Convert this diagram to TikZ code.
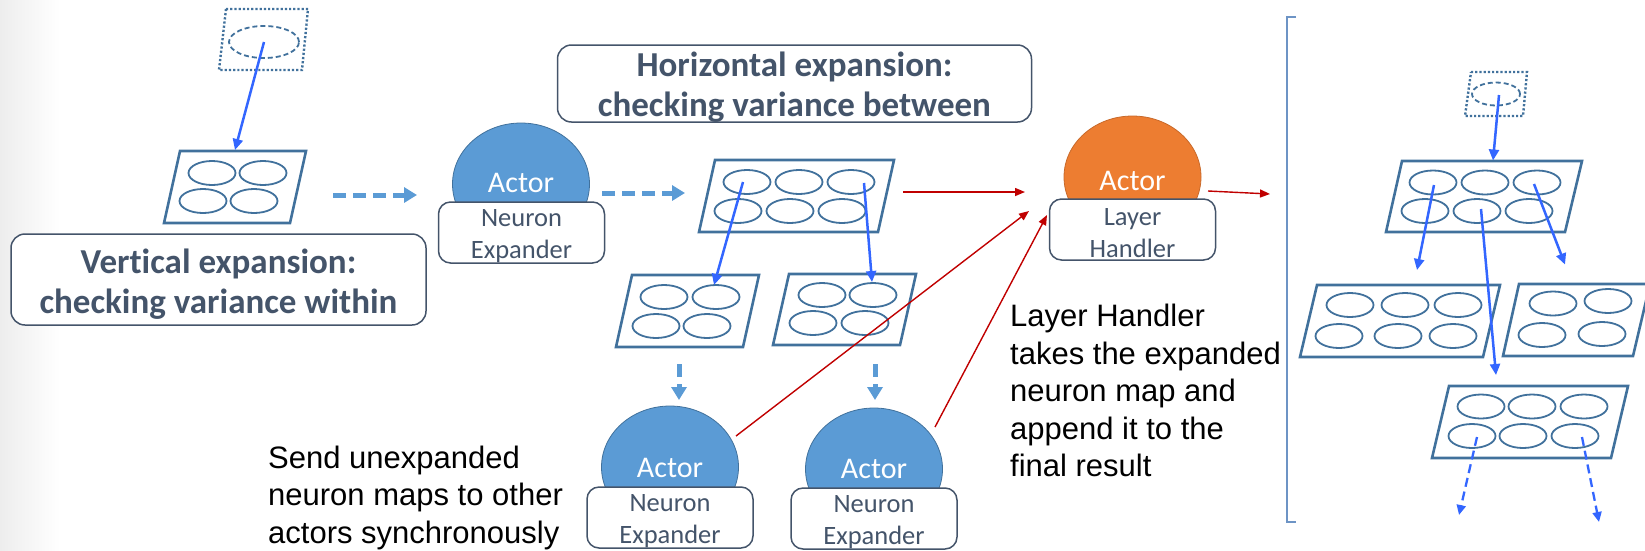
\documentclass[tikz,border=0pt]{standalone}
\usepackage{fontspec}
\setmainfont{Carlito}[Ligatures=CommonOff]
\newfontfamily\arialf{Liberation Sans}
\usetikzlibrary{shapes.geometric,arrows.meta}
\definecolor{pbord}{HTML}{41719C}
\definecolor{abl}{HTML}{5B9BD5}
\definecolor{aor}{HTML}{ED7D31}
\definecolor{aorb}{HTML}{C8692A}
\definecolor{slate}{HTML}{44546A}
\definecolor{brblue}{HTML}{3366FF}
\definecolor{dred}{HTML}{C00000}
\definecolor{brk}{HTML}{6D94C5}
\begin{document}
\begin{tikzpicture}[x=1pt,y=-1pt,
  pg/.style={draw=pbord, line width=2.6pt, line join=miter},
  dpg/.style={draw=pbord, line width=2.4pt, dash pattern=on 2.2pt off 2pt},
  cell/.style={ellipse, draw=pbord, line width=1.8pt, inner sep=0pt, outer sep=0pt, minimum width=47pt, minimum height=24pt},
  dcell/.style={ellipse, draw=pbord, line width=1.8pt, dash pattern=on 5pt off 3pt, inner sep=0pt, outer sep=0pt},
  barrow/.style={draw=brblue, line width=2.5pt, -{Triangle[length=11pt,width=10pt]}},
  darrow/.style={draw=abl, line width=5pt, dash pattern=on 13pt off 7pt, -{Triangle[length=13pt,width=15pt]}},
  rarrow/.style={draw=dred, line width=1.4pt, -{Triangle[length=10pt,width=8pt]}},
  rdash/.style={draw=brblue, line width=2.3pt, dash pattern=on 9pt off 5pt, -{Triangle[length=10pt,width=9pt]}},
  actor/.style={ellipse, fill=abl, draw=pbord, line width=0.8pt, minimum width=137pt, minimum height=122pt, inner sep=0pt},
  oactor/.style={actor, fill=aor, draw=aorb},
  atext/.style={text=white, font=\fontsize{30}{36}\selectfont, inner sep=0pt, anchor=base},
  rolebox/.style={draw=slate, line width=1.5pt, fill=white, rounded corners=12pt, minimum width=166pt, minimum height=61pt, inner sep=0pt},
  roletext/.style={text=slate, align=center, font=\fontsize{26.5}{32}\selectfont, inner sep=0pt},
  titlebox/.style={draw=slate, line width=1.5pt, fill=white, rounded corners=14pt, inner sep=0pt},
  titletext/.style={text=slate, align=center, font=\bfseries\fontsize{35}{40}\selectfont, inner sep=0pt},
  note/.style={text=black, align=left, font=\arialf\fontsize{31}{37.5}\selectfont, inner sep=0pt}
]
\useasboundingbox (0,0) rectangle (1645,550);
\shade[left color=black!7, right color=white] (0,0) rectangle (60,550);

% ---------- left: vertical expansion ----------
\draw[dpg] (226,9) -- (308,9) -- (302,70) -- (219,70) -- cycle;
\node[dcell, minimum width=70pt, minimum height=32pt] (e0) at (264,42) {};
\draw[pg] (180,151) -- (306,151) -- (290,223) -- (164,223) -- cycle;
\node[cell] (p1a) at (212,173) {};
\node[cell] (p1b) at (263,173) {};
\node[cell] (p1c) at (203,201) {};
\node[cell] (p1d) at (254,201) {};
\coordinate (t0) at (235,150);
\draw[barrow] (e0.center) -- (t0);

\node[titlebox, minimum width=415pt, minimum height=91pt] (vbox) at (218.5,279.5) {};
\node[titletext] (vtext) at ([yshift=-5pt]vbox.center) {Vertical expansion:\\checking variance within};

\coordinate (d1s) at (333,195);
\coordinate (d1e) at (417,195);
\draw[darrow] (d1s) -- (d1e);

% ---------- actor 1 ----------
\node[actor] (a1) at (521,184) {};
\node[atext] (a1t) at (521,192) {Actor};
\node[rolebox] (a1b) at (521.5,232.5) {};
\node[roletext] (a1bt) at ([yshift=-4pt]a1b.center) {Neuron\\Expander};

\coordinate (d2s) at (602,193);
\coordinate (d2e) at (685,193);
\draw[darrow] (d2s) -- (d2e);

% ---------- horizontal title ----------
\node[titlebox, minimum width=474pt, minimum height=77pt] (hbox) at (794.5,83.5) {};
\node[titletext] (htext) at ([yshift=-4pt]hbox.center) {Horizontal expansion:\\checking variance between};

% ---------- middle 6-map ----------
\draw[pg] (715,160) -- (894,160) -- (878,232) -- (699,232) -- cycle;
\node[cell] (p2a) at (747,182) {};
\node[cell] (p2b) at (799,182) {};
\node[cell] (p2c) at (851,182) {};
\node[cell] (p2d) at (738,211) {};
\node[cell] (p2e) at (790,211) {};
\node[cell] (p2f) at (842,211) {};

% ---------- lower maps ----------
\draw[pg] (632,275) -- (759,275) -- (743,347) -- (616,347) -- cycle;
\node[cell] (p3a) at (664,297) {};
\node[cell] (p3b) at (716,297) {};
\node[cell] (p3c) at (656,326) {};
\node[cell] (p3d) at (707,326) {};
\draw[pg] (789,274) -- (916,274) -- (900,345) -- (773,345) -- cycle;
\node[cell] (p4a) at (822,295) {};
\node[cell] (p4b) at (873,295) {};
\node[cell] (p4c) at (813,323) {};
\node[cell] (p4d) at (865,323) {};

\coordinate (s2) at (743,182);
\coordinate (t2) at (714,285);
\coordinate (s3) at (864,183);
\coordinate (t3) at (872,282);
\draw[barrow] (s2) -- (t2);
\draw[barrow] (s3) -- (t3);

\coordinate (d3s) at (679,364);
\coordinate (d3e) at (679,400);
\coordinate (d4s) at (875,364);
\coordinate (d4e) at (875,400);
\draw[darrow] (d3s) -- (d3e);
\draw[darrow] (d4s) -- (d4e);

% ---------- lower actors ----------
\node[actor] (a2) at (670,467) {};
\node[atext] (a2t) at (670,477) {Actor};
\node[rolebox] (a2b) at (670,517.5) {};
\node[roletext] (a2bt) at ([yshift=-4pt]a2b.center) {Neuron\\Expander};

\node[actor] (a3) at (874,469) {};
\node[atext] (a3t) at (874,478) {Actor};
\node[rolebox] (a3b) at (874,518.5) {};
\node[roletext] (a3bt) at ([yshift=-4pt]a3b.center) {Neuron\\Expander};

% ---------- layer handler ----------
\node[oactor] (lh) at (1132.5,177) {};
\node[atext] (lht) at (1132.5,190) {Actor};
\node[rolebox] (lhb) at (1132.5,229.5) {};
\node[roletext] (lhbt) at ([yshift=-4pt]lhb.center) {Layer\\Handler};

\coordinate (r1s) at (903,192);
\coordinate (r1e) at (1025,192);
\coordinate (r2s) at (736,436);
\coordinate (r2e) at (1029,211);
\coordinate (r3s) at (935,427);
\coordinate (r3e) at (1047,215);
\coordinate (r4s) at (1208,191);
\coordinate (r4e) at (1270,194);
\draw[rarrow] (r1s) -- (r1e);
\draw[rarrow] (r2s) -- (r2e);
\draw[rarrow] (r3s) -- (r3e);
\draw[rarrow] (r4s) -- (r4e);

% ---------- notes ----------
\node[note, anchor=base west] (n1) at (268,543) {Send unexpanded\\neuron maps to other\\actors synchronously};
\node[note, anchor=base west] (n2) at (1010,476.7) {Layer Handler\\takes the expanded\\neuron map and\\append it to the\\final result};

% ---------- right: result ----------
\draw[draw=brk, line width=2.5pt] (1296,17) -- (1287,17) -- (1287,522) -- (1296,522);

\draw[dpg] (1471,72) -- (1527,72) -- (1523,116) -- (1465,116) -- cycle;
\node[dcell, minimum width=48pt, minimum height=23pt] (r0) at (1496,94) {};

\draw[pg] (1402,161) -- (1582,161) -- (1565,232) -- (1386,232) -- cycle;
\node[cell] (q1a) at (1433,182.5) {};
\node[cell] (q1b) at (1485,182.5) {};
\node[cell] (q1c) at (1537,182.5) {};
\node[cell] (q1d) at (1425,211) {};
\node[cell] (q1e) at (1477,211) {};
\node[cell] (q1f) at (1529,211) {};

\draw[pg] (1317,285) -- (1500,285) -- (1483,357) -- (1300,357) -- cycle;
\node[cell] (q2a) at (1350,305) {};
\node[cell] (q2b) at (1405,305) {};
\node[cell] (q2c) at (1458,305) {};
\node[cell] (q2d) at (1339,336) {};
\node[cell] (q2e) at (1398,336) {};
\node[cell] (q2f) at (1453,336) {};

\draw[pg] (1519,284) -- (1650,284) -- (1633,356) -- (1503,356) -- cycle;
\node[cell] (q3a) at (1553,303.5) {};
\node[cell] (q3b) at (1608,301) {};
\node[cell] (q3c) at (1542,335) {};
\node[cell] (q3d) at (1602,334) {};

\draw[pg] (1449,386) -- (1628,386) -- (1611,458) -- (1432,458) -- cycle;
\node[cell] (q4a) at (1481,406.5) {};
\node[cell] (q4b) at (1532,406.5) {};
\node[cell] (q4c) at (1584,406.5) {};
\node[cell] (q4d) at (1472,436) {};
\node[cell] (q4e) at (1523,436) {};
\node[cell] (q4f) at (1575,436) {};

\coordinate (u0s) at (1499,95);
\coordinate (u0e) at (1493,160.5);
\coordinate (u1s) at (1434,185);
\coordinate (u1e) at (1417,270);
\coordinate (u2s) at (1534,184);
\coordinate (u2e) at (1565,264.5);
\coordinate (u3s) at (1481,209);
\coordinate (u3e) at (1496,375);
\coordinate (u4s) at (1477,437);
\coordinate (u4e) at (1459,515);
\coordinate (u5s) at (1582,437);
\coordinate (u5e) at (1599,522);
\draw[barrow] (u0s) -- (u0e);
\draw[barrow] (u1s) -- (u1e);
\draw[barrow] (u2s) -- (u2e);
\draw[barrow] (u3s) -- (u3e);
\draw[rdash] (u4s) -- (u4e);
\draw[rdash] (u5s) -- (u5e);
\end{tikzpicture}
\end{document}
